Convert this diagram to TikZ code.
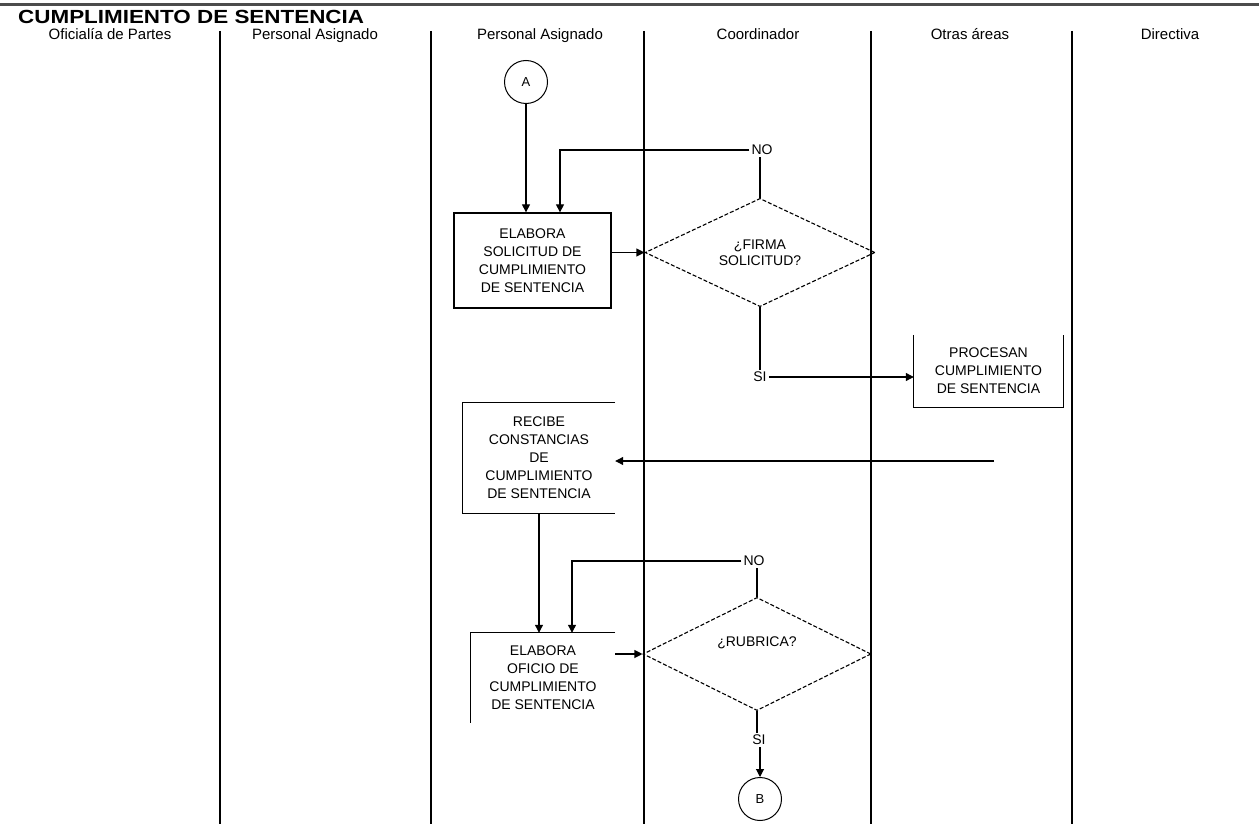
\documentclass[tikz,border=0pt]{standalone}
\usepackage{fontspec}
\setmainfont{Liberation Sans}
\usetikzlibrary{arrows.meta,shapes.geometric,calc}
\begin{document}
\begin{tikzpicture}[x=1pt,y=-1pt,
  lane/.style={line width=1.4pt},
  conn/.style={line width=1.1pt},
  arr/.style={conn,-{Triangle[length=8pt,width=8pt]}},
  txt/.style={align=center,font=\fontsize{14}{18}\selectfont,inner sep=0pt},
  fullbox/.style={txt,draw,line width=1.3pt},
  openbox/.style={txt},
  side/.style={line width=1.3pt},
  decision/.style={diamond,draw,dashed,dash pattern=on 4pt off 2pt,line width=1.1pt,inner sep=0pt,align=center,font=\fontsize{14}{16}\selectfont},
  connector/.style={circle,draw,line width=1pt,minimum size=43pt,inner sep=0pt,font=\fontsize{13}{13}\selectfont},
  hdr/.style={font=\fontsize{15}{15}\selectfont,anchor=base,inner sep=0pt},
  lbl/.style={font=\fontsize{14}{14}\selectfont,inner sep=2pt}
]
\useasboundingbox (0,0) rectangle (1259,824);
% top rule and title
\draw[line width=3pt,black!70] (0,4.5) -- (1259,4.5);
\node[anchor=base west,inner sep=0pt] (title) at (18,24) {\scalebox{1.18}[1]{\fontsize{19}{19}\selectfont\bfseries CUMPLIMIENTO DE SENTENCIA}};
% lane headers
\node[hdr] (h1) at (110,40) {Oficialía de Partes};
\node[hdr] (h2) at (315,40) {Personal Asignado};
\node[hdr] (h3) at (540,40) {Personal Asignado};
\node[hdr] (h4) at (758,40) {Coordinador};
\node[hdr] (h5) at (970,40) {Otras áreas};
\node[hdr] (h6) at (1170,40) {Directiva};
% lane dividers
\foreach \x in {220,431,644,871,1072} \draw[lane] (\x,31) -- (\x,824);

% nodes
\node[connector] (A) at (526,82) {A};
\node[fullbox,minimum width=157pt,minimum height=95pt] (box1) at (532.5,260.5) {ELABORA\\SOLICITUD DE\\CUMPLIMIENTO\\DE SENTENCIA};
\node[decision,minimum width=230pt,minimum height=99pt] (d1) at (760,252.5) {¿FIRMA\\SOLICITUD?};
\node[lbl] (no1) at (762,150) {NO};
\node[lbl] (si1) at (760,377) {SI};
\node[openbox,minimum width=149pt,minimum height=72pt] (proc) at (988.5,371) {PROCESAN\\CUMPLIMIENTO\\DE SENTENCIA};
\draw[side] (proc.north west) -- (proc.south west) -- (proc.south east) -- (proc.north east);
\coordinate (ret) at (994,461);
\node[openbox,minimum width=152pt,minimum height=110pt] (recibe) at (539,458) {RECIBE\\CONSTANCIAS\\DE\\CUMPLIMIENTO\\DE SENTENCIA};
\draw[side] (recibe.north east) -- (recibe.north west) -- (recibe.south west) -- (recibe.south east);
\node[openbox,minimum width=144pt,minimum height=90pt] (oficio) at (543,678) {ELABORA\\OFICIO DE\\CUMPLIMIENTO\\DE SENTENCIA};
\draw[side] (oficio.north east) -- (oficio.north west) -- (oficio.south west);
\node[decision,minimum width=228pt,minimum height=102pt] (d2) at (757,654) {¿RUBRICA?\\[8pt]};
\node[lbl] (no2) at (754,561) {NO};
\node[lbl] (si2) at (759,740) {SI};
\node[connector] (B) at (760,799) {B};

% connectors
\draw[arr] (A) -- (A |- box1.north);
\draw[conn] (d1.north) -- (d1.north |- no1.south);
\draw[arr] (no1.west) -| ($(box1.north)+(27.5,0)$);
\draw[arr] (box1.east |- d1.west) -- (d1.west);
\draw[conn] (d1.south) -- (d1.south |- si1.north);
\draw[arr] (si1.east) -- (si1.east -| proc.west);
\draw[arr] (ret) -- (ret -| recibe.east);
\draw[arr] (recibe.south) -- (recibe.south |- oficio.north);
\draw[conn] (d2.north) -- (d2.north |- no2.south);
\draw[arr] (no2.west) -| ($(oficio.north)+(29,0)$);
\draw[arr] (oficio.east |- d2.west) -- (d2.west);
\draw[conn] (d2.south) -- (d2.south |- si2.north);
\draw[arr] (si2.south -| B.north) -- (B.north);
\end{tikzpicture}
\end{document}
